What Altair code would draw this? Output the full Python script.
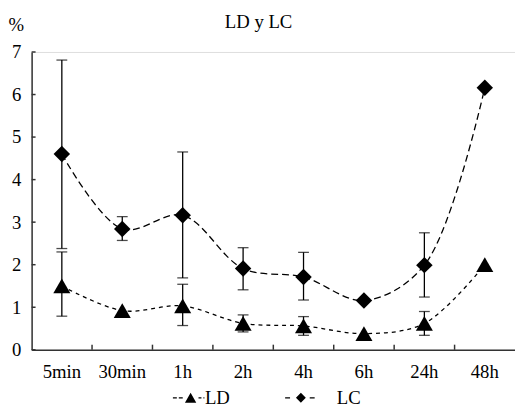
import altair as alt
import pandas as pd

categories = ["5min", "30min", "1h", "2h", "4h", "6h", "24h", "48h"]
series_names = ["LD", "LC"]

ld_mean = [1.5, 0.92, 1.03, 0.62, 0.56, 0.38, 0.62, 2.0]
ld_low = [0.79, None, 0.57, 0.42, 0.34, None, 0.34, None]
ld_high = [2.3, None, 1.54, 0.82, 0.78, None, 0.9, None]

lc_mean = [4.6, 2.84, 3.16, 1.91, 1.71, 1.16, 1.99, 6.16]
lc_low = [2.38, 2.57, 1.69, 1.41, 1.17, None, 1.24, None]
lc_high = [6.81, 3.13, 4.65, 2.4, 2.29, None, 2.75, None]

y_ticks = [0, 1, 2, 3, 4, 5, 6, 7]

FONT = "Liberation Serif"
FS = 19


def dash(a, b, h=0.13):
    return f"M{a},{-h}H{b}V{h}H{a}Z"


# legend symbols: dashed line with marker (custom paths, unit = symbol radius)
ld_path = (dash(-3.6, -2.8) + dash(-2.4, -1.6) + "M0,-1L1.15,1L-1.15,1Z"
           + dash(1.6, 2.2) + dash(2.6, 2.8))
lc_path = dash(-7.6, -6.6) + "M-5.4,0L-4.4,-1L-3.4,0L-4.4,1Z" + dash(-2.6, -1.6)


def frame(name, mean, low, high):
    return pd.DataFrame({"cat": categories, "serie": name, "mean": mean,
                         "low": low, "high": high})


ld_df = frame("LD", ld_mean, ld_low, ld_high)
lc_df = frame("LC", lc_mean, lc_low, lc_high)

xscale = alt.Scale(domain=categories, paddingInner=0, paddingOuter=0)
yscale = alt.Scale(domain=[0, 7], nice=False)

x_enc = alt.X("cat:N", sort=categories, scale=xscale,
              axis=alt.Axis(title=None, labelAngle=0, ticks=False, labelFont=FONT,
                            labelFontSize=FS, labelColor="black", labelPadding=28,
                            labelBaseline="alphabetic", domainColor="#333",
                            domainWidth=1.5, grid=False))
y_axis = alt.Axis(title="%", titleAngle=0, titleX=-16, titleY=-21.5,
                  titleAlign="center", titleBaseline="alphabetic", titleFont=FONT,
                  titleFontSize=FS, titleFontWeight="normal", titleColor="black",
                  values=y_ticks, ticks=False, labelFont=FONT, labelFontSize=FS,
                  labelColor="black", labelPadding=11, domainColor="#333",
                  domainWidth=1.5, grid=False)


def series_layers(df, shape, size, dash_pat):
    base = alt.Chart(df)
    line = base.mark_line(interpolate="catmull-rom", strokeDash=dash_pat,
                          strokeWidth=1.3, color="black").encode(
        x=x_enc, y=alt.Y("mean:Q", scale=yscale, axis=y_axis))
    err = base.transform_filter("isValid(datum.low)").mark_rule(
        color="black", strokeWidth=1.3).encode(
        x=alt.X("cat:N", sort=categories, scale=xscale),
        y=alt.Y("low:Q", scale=yscale), y2="high:Q")
    caps = base.transform_filter("isValid(datum.low)").transform_fold(
        ["low", "high"], as_=["end", "val"]).mark_tick(
        color="black", size=11, thickness=1.3).encode(
        x=alt.X("cat:N", sort=categories, scale=xscale),
        y=alt.Y("val:Q", scale=yscale))
    pts = base.mark_point(shape=shape, size=size, filled=True, color="black",
                          opacity=1).encode(
        x=alt.X("cat:N", sort=categories, scale=xscale),
        y=alt.Y("mean:Q", scale=yscale))
    return [line, err, caps, pts]


tick_df = pd.DataFrame({"cat": categories[1:]})
x_ticks = alt.Chart(tick_df).mark_rule(color="#333", strokeWidth=1.5).encode(
    x=alt.X("cat:N", sort=categories, scale=xscale, bandPosition=0),
    y=alt.datum(0), y2=alt.datum(0.12))

ytick_df = pd.DataFrame({"v": y_ticks})
y_tick_rules = alt.Chart(ytick_df).mark_rule(color="#333", strokeWidth=1.5).encode(
    y=alt.Y("v:Q", scale=yscale), x=alt.value(0), x2=alt.value(4))

legend_df = pd.DataFrame({"serie": series_names})
legend_layer = alt.Chart(legend_df).transform_filter("false").mark_point(
    filled=True, color="black", opacity=1).encode(
    shape=alt.Shape("serie:N",
                    scale=alt.Scale(domain=series_names, range=[ld_path, lc_path]),
                    legend=alt.Legend(title=None, orient="none", legendX=152,
                                      legendY=341.5, direction="horizontal",
                                      labelFont=FONT, labelFontSize=FS,
                                      labelColor="black", symbolSize=100,
                                      labelOffset=5, columnPadding=55,
                                      padding=0, symbolStrokeWidth=0,
                                      symbolFillColor="black")))

layers = (series_layers(ld_df, "triangle-up", 300, [4, 4])
          + series_layers(lc_df, "diamond", 280, [7, 4]))

chart = alt.layer(*layers, x_ticks, y_tick_rules, legend_layer).properties(
    width=491, height=302.5,
    padding={"left": 24, "top": 41.5, "right": 0, "bottom": 59},
    autosize=alt.AutoSizeParams(type="none"),
    title=alt.TitleParams("LD y LC", font=FONT, fontSize=FS, fontWeight="normal",
                          color="black", anchor="middle", frame="group", dx=-15,
                          offset=-31, baseline="alphabetic"),
).configure_view(strokeWidth=0).configure(background="white")

chart.save("out.html", embed_options={"renderer": "svg", "actions": False})
